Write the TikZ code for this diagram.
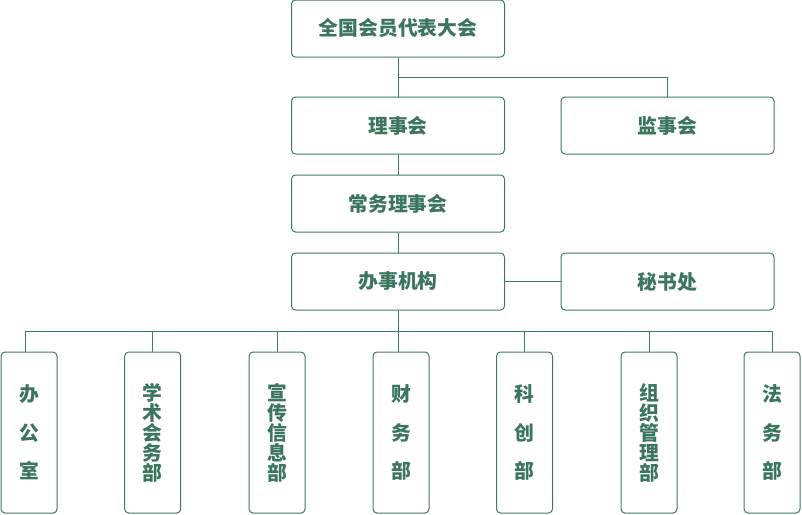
\documentclass[tikz,border=0pt]{standalone}
\usepackage{fontspec}
\setmainfont{Noto Sans CJK SC}
\usetikzlibrary{positioning}
\definecolor{orggreen}{RGB}{61,122,100}
\definecolor{orgtext}{RGB}{58,117,92}
\tikzset{
  orgbox/.style={draw=orggreen, line width=1pt, rounded corners=4pt,
    minimum width=213pt, minimum height=57pt, inner sep=0pt,
    font=\fontsize{19.8}{20}\selectfont\bfseries, text=orgtext},
  deptbox/.style={orgbox, minimum width=56pt, minimum height=161pt, align=center},
  link/.style={draw=orggreen, line width=1pt}
}

\begin{document}
\begin{tikzpicture}[x=1pt, y=-1pt]
      \useasboundingbox (0,0) rectangle (802,514);
      \node[orgbox] (congress) at (398,28.5) {全国会员代表大会};
      \node[orgbox] (council) at (398,125.5) {理事会};
      \node[orgbox] (supervise) at (667.5,125.5) {监事会};
      \node[orgbox] (standing) at (398,203.5) {常务理事会};
      \node[orgbox] (office) at (398,281.5) {办事机构};
      \node[orgbox] (secretariat) at (667.5,281.5) {秘书处};
      \foreach \x/\lead/\txt [count=\i] in {29/38.5/{办\\公\\室}, 152.7/20/{学\\术\\会\\务\\部},
          277/20/{宣\\传\\信\\息\\部}, 401/38.5/{财\\务\\部}, 524.5/38.5/{科\\创\\部},
          649/20/{组\\织\\管\\理\\部}, 772/38.5/{法\\务\\部}} {
        \node[deptbox, font=\fontsize{19.8}{\lead}\selectfont\bfseries] (dept\i) at (\x,432.5) {\txt};
      }
      \coordinate (fork) at (398,77);
      \coordinate (busL) at (25.3,331.3);
      \draw[link] (congress.south) -- (council.north);
      \draw[link] (fork) -| (supervise.north);
      \draw[link] (council.south) -- (standing.north);
      \draw[link] (standing.south) -- (office.north);
      \draw[link] (office) -- (secretariat);
      \draw[link] (office.south) -- (office.south |- dept4.north);
      \draw[link] (busL) -- (dept7.north |- busL);
      \draw[link] (busL) -- (busL |- dept1.north);
      \foreach \i in {2,3,5,6,7} {
        \draw[link] (dept\i.north |- busL) -- (dept\i.north);
      }
    \end{tikzpicture}
\end{document}
